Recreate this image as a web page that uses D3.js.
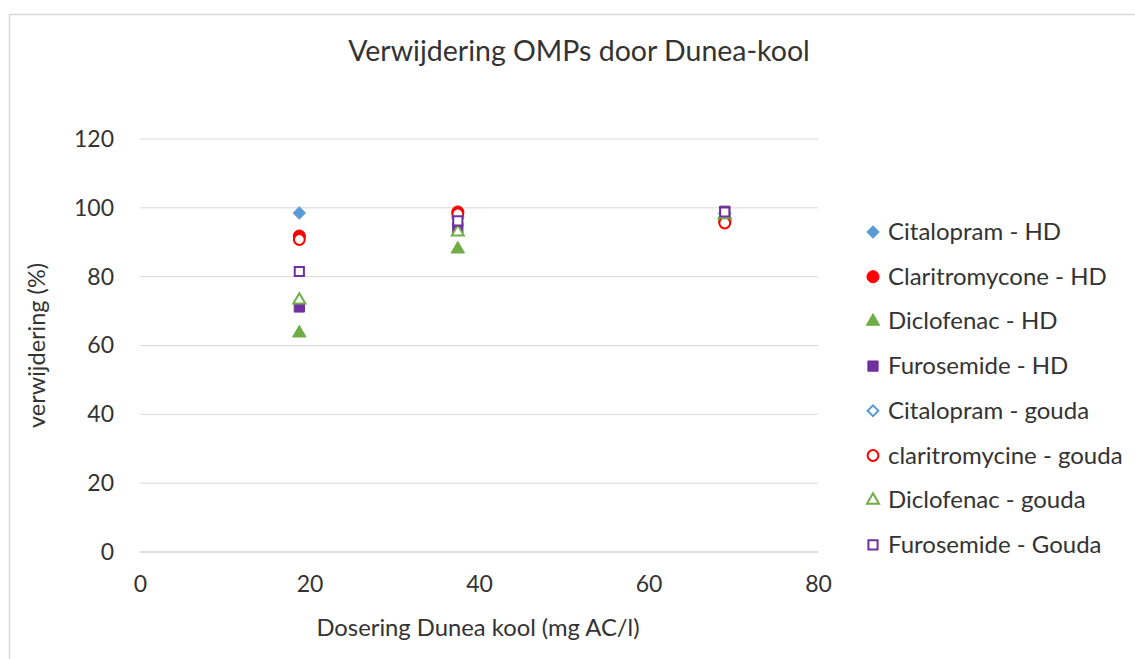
<!DOCTYPE html>
<html>
<head>
<meta charset="utf-8">
<script src="https://cdn.jsdelivr.net/npm/d3@7"></script>
<style>
  body { margin: 0; background: #fff; }
  text { font-family: Lato, "Open Sans", sans-serif; fill: #333; }
</style>
</head>
<body>
<div id="chartDiv"></div>
<script>
// Data
var dosering = [18.8, 37.5, 69];
var seriesNames = ["Citalopram - HD", "Claritromycone - HD", "Diclofenac - HD", "Furosemide - HD",
                   "Citalopram - gouda", "claritromycine - gouda", "Diclofenac - gouda", "Furosemide - Gouda"];
var citalopramHD = [98.5, 97, 98.5];
var claritroHD = [91.8, 98.8, 96];
var diclofenacHD = [63.6, 88, 97.5];
var furosemideHD = [71.2, 94.2, 99];
var citalopramGouda = [null, 97.5, 98.3];
var claritroGouda = [90.8, 98.2, 95.6];
var diclofenacGouda = [73.2, 93, 98];
var furosemideGouda = [81.5, 96.2, 98.8];
var xTicks = [0, 20, 40, 60, 80];
var yTicks = [0, 20, 40, 60, 80, 100, 120];

var seriesValues = [citalopramHD, claritroHD, diclofenacHD, furosemideHD,
                    citalopramGouda, claritroGouda, diclofenacGouda, furosemideGouda];
var colors = ["#5B9BD5", "#FF0000", "#70AD47", "#7030A0"];

var W = 1135, H = 659;
var margin = {top: 139, right: 317, bottom: 107, left: 140},
    width = W - margin.left - margin.right,
    height = H - margin.top - margin.bottom;

var svg = d3.select("#chartDiv").append("svg")
    .attr("width", W).attr("height", H);

// chart border
svg.append("rect")
    .attr("x", 9.5).attr("y", 14.5)
    .attr("width", W + 10).attr("height", H + 10)
    .attr("fill", "none").attr("stroke", "#d9d9d9").attr("stroke-width", 1.5);

var x = d3.scaleLinear().domain([0, 80]).range([0, width]);
var y = d3.scaleLinear().domain([0, 120]).range([height, 0]);

var g = svg.append("g")
    .attr("transform", "translate(" + margin.left + "," + margin.top + ")");

// gridlines
g.selectAll(".grid").data(yTicks).enter().append("line")
    .attr("x1", 0).attr("x2", width)
    .attr("y1", function(d) { return y(d); }).attr("y2", function(d) { return y(d); })
    .attr("stroke", function(d) { return d === 0 ? "#bfbfbf" : "#d9d9d9"; })
    .attr("stroke-width", 1);

var yAxis = g.append("g").call(d3.axisLeft(y).tickValues(yTicks).tickSize(0).tickPadding(26));
yAxis.select(".domain").remove();
yAxis.selectAll("text").style("font-size", "23px").attr("fill", "#333");

var xAxis = g.append("g").attr("transform", "translate(0," + height + ")")
    .call(d3.axisBottom(x).tickValues(xTicks).tickSize(0).tickPadding(24));
xAxis.select(".domain").remove();
xAxis.selectAll("text").style("font-size", "23px").attr("fill", "#333");

// marker shapes (diamond = square turned 45 degrees)
var shapes = [d3.symbolSquare, d3.symbolCircle, d3.symbolTriangle, d3.symbolSquare];
var sizes = [72, 115, 78, 105];
var rot = [45, 0, 0, 0];

var points = [];
seriesValues.forEach(function(vals, si) {
  vals.forEach(function(v, i) {
    if (v !== null) points.push({s: si, x: dosering[i], y: v});
  });
});

function symbolPath(si) {
  return d3.symbol().type(shapes[si % 4]).size(sizes[si % 4] * (si >= 4 ? 0.8 : 1))();
}
function markerTransform(si, px, py) {
  return "translate(" + px + "," + py + ") rotate(" + rot[si % 4] + ")";
}
function styleMarker(sel, si) {
  var c = colors[si % 4];
  if (si < 4) {
    sel.attr("fill", c).attr("stroke", c).attr("stroke-width", 1);
  } else {
    sel.attr("fill", "#fff").attr("stroke", c).attr("stroke-width", 2);
  }
}

g.selectAll(".pt").data(points).enter().append("path")
    .attr("d", function(d) { return symbolPath(d.s); })
    .attr("transform", function(d) { return markerTransform(d.s, x(d.x), y(d.y)); })
    .each(function(d) { styleMarker(d3.select(this), d.s); });

// title
svg.append("text")
    .attr("x", 579).attr("y", 61).attr("text-anchor", "middle")
    .style("font-size", "28.5px").text("Verwijdering OMPs door Dunea-kool");

// axis titles
svg.append("text")
    .attr("transform", "translate(45," + (margin.top + height / 2) + ") rotate(-90)")
    .attr("text-anchor", "middle").style("font-size", "23.5px")
    .text("verwijdering (%)");
svg.append("text")
    .attr("x", 478).attr("y", 636).attr("text-anchor", "middle")
    .style("font-size", "23.8px").text("Dosering Dunea kool (mg AC/l)");

// legend
var legend = svg.append("g").attr("transform", "translate(873,232)");
seriesNames.forEach(function(name, i) {
  var row = legend.append("g").attr("transform", "translate(0," + (i * 44.7) + ")");
  row.append("path")
      .attr("d", symbolPath(i))
      .attr("transform", markerTransform(i, 0, 0))
      .each(function() { styleMarker(d3.select(this), i); });
  row.append("text").attr("x", 15).attr("y", 8)
      .style("font-size", "24px").attr("fill", "#333").text(name);
});
</script>
</body>
</html>
